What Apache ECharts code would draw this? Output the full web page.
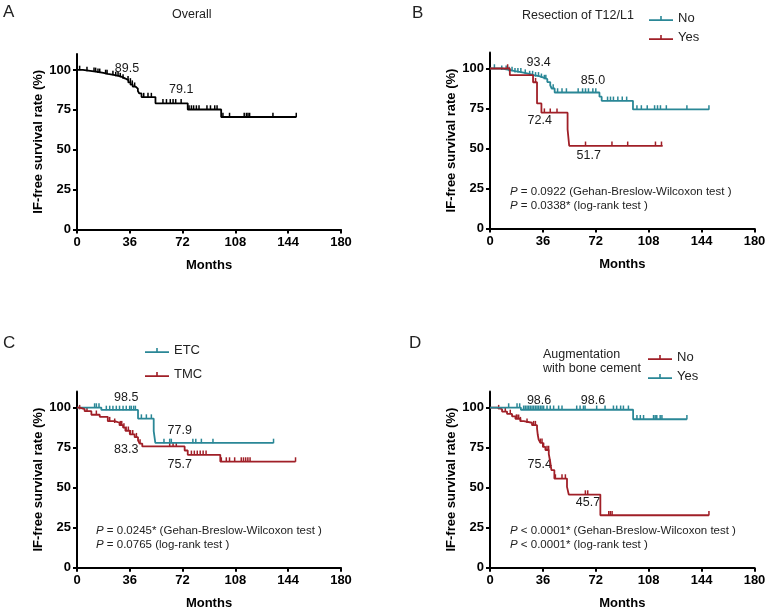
<!DOCTYPE html>
<html>
<head>
<meta charset="utf-8">
<script src="https://cdn.jsdelivr.net/npm/echarts@6/dist/echarts.min.js"></script>
<style>html,body{margin:0;padding:0;background:#fff}#c{width:769px;height:611px}</style>
</head>
<body>
<div id="c"></div>
<script>
// ---------- data ----------
var xTicks = [0, 36, 72, 108, 144, 180];
var yTicks = [0, 25, 50, 75, 100];

// Panel A: overall
var stepsA = [[0,100],[4,99.4],[9,98.8],[14,98.2],[18,97.5],[21,96.9],[25,96.2],[29,95.5],[31,94.6],[33,93.6],[35,92.2],[36.5,90.8],[38,89.5],[40,88.3],[41.5,86.8],[42.5,85.3],[44,83.0],[53.5,79.1],[75.5,75.2],[98.3,70.5],[149.5,70.5]];
var censA = [1.8,6.8,11.6,12.7,14.3,15.5,19.5,20.5,24.5,26.4,28,29.5,31.4,34.8,36.4,37.7,39.3,45.5,48.4,50.7,58.6,61,63.6,65.5,67.3,71,76.4,78,79.5,81.4,83.2,88.6,91,93.9,95.5,99.5,104,114,115.5,116.6,117.7,133.6,149.5];
var annA = [[34.1,100.6,'89.5'],[71.1,87.7,'79.1']];

// Panel B: resection of T12/L1
var stepsBNo = [[0,100],[8,99.2],[13,98.4],[17,97.6],[22,96.8],[26,95.9],[30,95.1],[34,94.2],[37,93.4],[39,91.5],[41,89.5],[42,87.5],[44,85.0],[74.5,82.4],[76,79.8],[97.3,74.4],[149,74.4]];
var censBNo = [3,8,11,13,15,17,19,21,24,27,29,31,33,35,37,38,43,46,49,52,60,63,65,67,70,72,80,82,84,87,90,93,100,103,107,112,114,116,120,134,149];
var stepsBYes = [[0,100],[13.5,95.8],[29.3,91.4],[32,78.2],[35,72.4],[52.8,62],[53.9,51.7],[117.5,51.7]];
var censBYes = [12,31,37,41,45.6,65,83,93.7,112.6,116.7];
var annB = [[33.1,103.5,'93.4'],[70.1,92.7,'85.0'],[33.8,67.5,'72.4'],[67.2,45.8,'51.7']];

// Panel C: ETC vs TMC
var stepsCETC = [[0,100],[16.6,98.5],[41.6,93.1],[52.3,85.2],[53.4,77.9],[134,77.9]];
var censCETC = [12,13.2,15,20,22.3,24.5,26.8,29,31.4,33.6,35.9,37,38.6,39.8,43.9,47.3,50.7,59.3,63.2,64.3,79,81,84.8,92.7,134];
var stepsCTMC = [[0,100],[1.8,99],[5.2,97.7],[9.8,95.5],[15.5,94.2],[21,91.5],[25.7,90.5],[29,89],[31.4,87.5],[33,85.5],[36,83.3],[39.3,81.5],[41.6,79.5],[42.7,77.5],[44.5,75.7],[73.4,73.2],[75.5,70.5],[97.7,66.3],[149,66.3]];
var censCTMC = [1.8,6.8,13.2,22.3,25.7,29.5,30.5,32,33.5,35,36.5,38,40.5,43,63.2,65.5,67.7,78,80,82,84,86,88,98.4,101.8,104,107.5,112,113.5,115,116.5,118,149];
var annC = [[33.6,106.2,'98.5'],[70,85.9,'77.9'],[33.6,74,'83.3'],[70,64.7,'75.7']];

// Panel D: augmentation with bone cement
var stepsDNo = [[0,100],[4.8,99],[8.2,97.5],[11.6,96],[15,94.5],[17.3,93],[20.7,91.5],[23,90.5],[28.6,89],[32,87],[32.5,83],[33.1,80],[34.3,78],[36,75.4],[37.7,73.5],[40,71],[41,66],[41.8,61],[43.8,55.7],[52.4,50.5],[53.6,45.7],[75.1,32.8],[149,32.8]];
var censDNo = [5.9,10.4,13.8,17.9,18.4,19.5,20.7,25.2,29.7,30.9,34.3,35.4,36.5,38.8,39.9,44.5,49,51.3,64.9,66.5,80.8,81.9,83.1,149];
var stepsDYes = [[0,100],[21,98.6],[97.4,92.7],[134,92.7]];
var censDYes = [12.7,18.4,20.2,22.9,24,25.2,26.3,27.4,28.6,29.7,30.9,32,33.1,34.3,35.4,36.5,38.8,41,43.3,46.7,49,59,61.3,63.6,64.7,72.6,78.3,84,86.2,88.9,90.8,94.2,100,102.3,104.5,111.3,112.4,113.5,115.8,117,134];
var annD = [[33.4,104.2,'98.6'],[70.1,104.2,'98.6'],[33.8,64.4,'75.4'],[66.7,40.5,'45.7']];

// ---------- styling ----------
var TEAL = '#2a8796', RED = '#a01f27', BLACK = '#000';
var FONT = 'Liberation Sans, Arial, sans-serif';
var ICON = 'path://M0,6.2 L24,6.2 L24,8 L0,8 Z M11.2,3 L12.8,3 L12.8,8 L11.2,8 Z';

function survAt(steps, t) {
  var v = steps[0][1];
  for (var i = 0; i < steps.length; i++) { if (steps[i][0] <= t) v = steps[i][1]; }
  return v;
}
var series = [];
function km(name, steps, cens, color, g) {
  series.push({
    type: 'line', name: name, step: 'end', data: steps, xAxisIndex: g, yAxisIndex: g,
    showSymbol: false, symbol: 'none', lineStyle: {color: color, width: 1.8, opacity: 1}, itemStyle: {color: color},
    animation: false, silent: true
  });
  series.push({
    type: 'scatter', name: name + '-cens', xAxisIndex: g, yAxisIndex: g,
    data: cens.map(function (t) { return [t, survAt(steps, t)]; }),
    symbol: 'rect', symbolSize: [1.5, 4.5], symbolOffset: [0, -2],
    itemStyle: {color: color, opacity: 1}, animation: false, silent: true
  });
}
function ann(arr, g) {
  series.push({
    type: 'scatter', xAxisIndex: g, yAxisIndex: g, data: arr, symbolSize: 0, silent: true, animation: false,
    itemStyle: {color: '#fff', opacity: 1},
    label: {show: true, position: 'inside', formatter: function (p) { return p.value[2]; },
      color: '#1a1a1a', opacity: 1, fontSize: 12.5, fontFamily: FONT, textBorderWidth: 0}
  });
}
km('Overall', stepsA, censA, BLACK, 0); ann(annA, 0);
km('No', stepsBNo, censBNo, TEAL, 1); km('Yes', stepsBYes, censBYes, RED, 1); ann(annB, 1);
km('ETC', stepsCETC, censCETC, TEAL, 2); km('TMC', stepsCTMC, censCTMC, RED, 2); ann(annC, 2);
km('No ', stepsDNo, censDNo, RED, 3); km('Yes ', stepsDYes, censDYes, TEAL, 3); ann(annD, 3);

var grids = [
  {left: 77, top: 54, width: 264, height: 175.5},
  {left: 490, top: 52.5, width: 264.5, height: 176},
  {left: 77, top: 391.5, width: 264, height: 176.3},
  {left: 490, top: 391.5, width: 264.5, height: 176.3}
];
var axisLineStyle = {color: '#000', width: 2};
function xAx(g) {
  return {gridIndex: g, type: 'value', min: 0, max: 180, interval: 36,
    axisLine: {show: true, lineStyle: axisLineStyle}, axisTick: {show: true, length: 4, lineStyle: axisLineStyle},
    axisLabel: {color: '#000', fontWeight: 'bold', fontSize: 13, fontFamily: FONT, margin: 6},
    splitLine: {show: false}, name: 'Months', nameLocation: 'middle', nameGap: 29,
    nameTextStyle: {color: '#000', fontWeight: 'bold', fontSize: 13, fontFamily: FONT}};
}
function yAx(g) {
  return {gridIndex: g, type: 'value', min: 0, max: 110, interval: 25,
    axisLine: {show: true, lineStyle: axisLineStyle},
    axisTick: {show: true, length: 4, lineStyle: axisLineStyle, customValues: yTicks},
    axisLabel: {color: '#000', fontWeight: 'bold', fontSize: 13, fontFamily: FONT, margin: 6, customValues: yTicks},
    splitLine: {show: false}, name: 'IF-free survival rate (%)', nameLocation: 'middle', nameGap: 32,
    nameTextStyle: {color: '#000', fontWeight: 'bold', fontSize: 13, fontFamily: FONT}};
}
function legend(names, left, top, gap) {
  return {data: names, orient: 'vertical', left: left, top: top, itemWidth: 24, itemHeight: 5, itemGap: gap,
    icon: ICON, selectedMode: false, textStyle: {fontSize: 13, color: '#222', fontFamily: FONT}};
}
var rich = {i: {fontStyle: 'italic', fontSize: 11.5, color: '#222', fontFamily: FONT}};
function txt(text, left, top, size) {
  return {text: text, left: left, top: top, padding: 0,
    textStyle: {fontSize: size, fontWeight: 'normal', color: '#222', fontFamily: FONT,
      lineHeight: size > 12 ? size + 2 : 14, rich: rich}};
}
var titles = [
  txt('A', 3, 3, 17), txt('B', 412, 4, 17), txt('C', 3, 334, 17), txt('D', 409, 334, 17),
  txt('Overall', 172, 7, 12.5),
  txt('Resection of T12/L1', 522, 8, 12.5),
  txt('Augmentation\nwith bone cement', 543, 347, 12.5),
  txt('{i|P} = 0.0922 (Gehan-Breslow-Wilcoxon test )\n{i|P} = 0.0338* (log-rank test )', 510, 185, 11.5),
  txt('{i|P} = 0.0245* (Gehan-Breslow-Wilcoxon test )\n{i|P} = 0.0765 (log-rank test )', 96, 524, 11.5),
  txt('{i|P} < 0.0001* (Gehan-Breslow-Wilcoxon test )\n{i|P} < 0.0001* (log-rank test )', 510, 524, 11.5)
];

var chart = echarts.init(document.getElementById('c'), null, {renderer: 'canvas'});
chart.setOption({
  backgroundColor: '#fff',
  animation: false,
  title: titles,
  legend: [legend(['No', 'Yes'], 644, 7, 6), legend(['ETC', 'TMC'], 140, 339, 11), legend(['No ', 'Yes '], 643, 346, 6)],
  grid: grids,
  xAxis: [xAx(0), xAx(1), xAx(2), xAx(3)],
  yAxis: [yAx(0), yAx(1), yAx(2), yAx(3)],
  series: series
});
</script>
</body>
</html>
